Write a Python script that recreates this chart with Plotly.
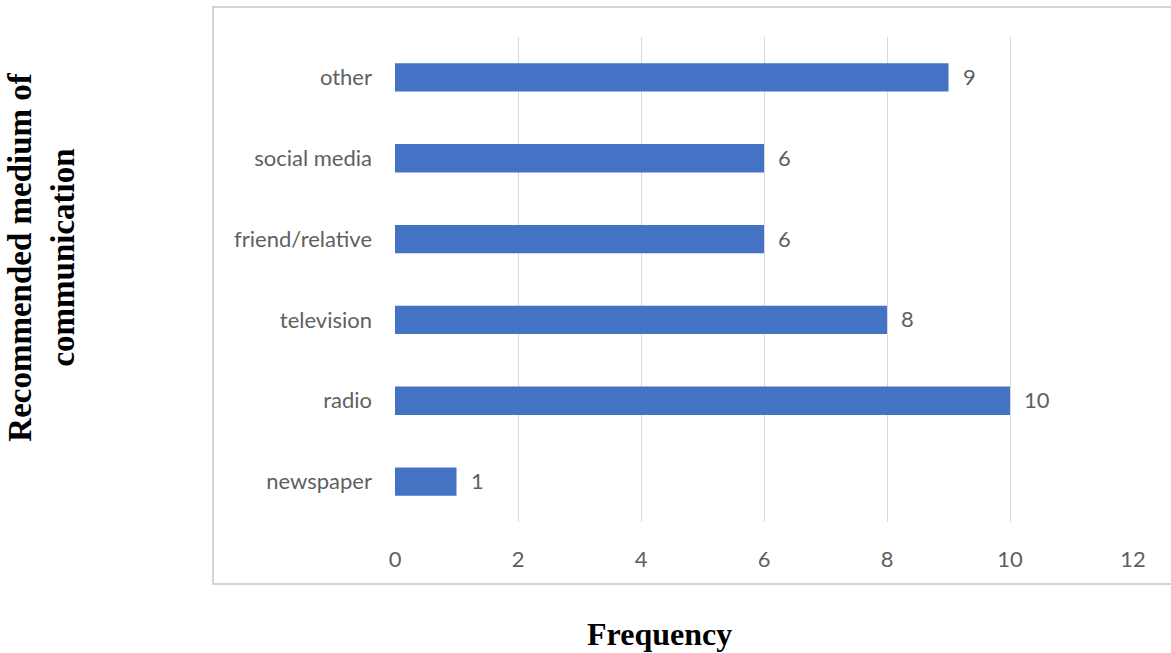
import plotly.graph_objects as go

# Survey responses: recommended medium of communication
media = ["newspaper", "radio", "television", "friend/relative", "social media", "other"]
frequency = [1, 10, 8, 6, 6, 9]
x_ticks = [0, 2, 4, 6, 8, 10, 12]

BAR_COLOR = "#4472C4"
LABEL_GREY = "#5f5f5f"
GRID_GREY = "#d9d9d9"
SANS = "Lato, Open Sans, sans-serif"
SERIF = "Liberation Serif, Times New Roman, serif"
TICK_SIZE = 22

fig = go.Figure(
    go.Bar(
        x=frequency,
        y=media,
        orientation="h",
        marker=dict(color=BAR_COLOR, line=dict(width=0)),
        width=0.35,
        hoverinfo="x+y",
    )
)

# value labels to the right of each bar
for m, v in zip(media, frequency):
    fig.add_annotation(
        x=v, y=m, xref="x", yref="y", text=str(v), showarrow=False,
        xanchor="left", xshift=12, yshift=1,
        font=dict(family=SANS, size=TICK_SIZE, color=LABEL_GREY),
    )

# chart frame
fig.add_shape(
    type="rect", xref="paper", yref="paper",
    x0=-0.2466, x1=1.06, y0=-0.1278, y1=1.0619,
    line=dict(color="#d4d4d4", width=2), fillcolor="rgba(0,0,0,0)", layer="below",
)

# axis titles
fig.add_annotation(
    text="<b>Recommended medium of<br>communication</b>",
    xref="paper", yref="paper", x=-0.479, y=0.546,
    textangle=-90, showarrow=False, xanchor="center", yanchor="middle",
    font=dict(family=SERIF, size=33, color="#000000"),
)
fig.add_annotation(
    text="<b>Frequency</b>",
    xref="paper", yref="paper", x=0.359, y=-0.231,
    showarrow=False, xanchor="center", yanchor="middle",
    font=dict(family=SERIF, size=32, color="#000000"),
)

fig.update_layout(
    width=1171, height=653,
    margin=dict(l=395, r=38, t=37, b=131),
    paper_bgcolor="white", plot_bgcolor="white",
    showlegend=False,
    font=dict(family=SANS, size=TICK_SIZE, color=LABEL_GREY),
    xaxis=dict(
        range=[0, 12], tickvals=x_ticks, ticktext=[str(t) for t in x_ticks],
        showgrid=True, gridcolor=GRID_GREY, gridwidth=1,
        zeroline=False, showline=False, ticks="",
        ticklabelstandoff=22,
        tickfont=dict(family=SANS, size=TICK_SIZE, color=LABEL_GREY),
        fixedrange=True,
    ),
    yaxis=dict(
        categoryorder="array", categoryarray=media,
        showgrid=False, zeroline=False, showline=False, ticks="",
        ticklabelstandoff=22,
        tickfont=dict(family=SANS, size=TICK_SIZE, color=LABEL_GREY),
        fixedrange=True,
    ),
)

fig.write_html("out.html")
